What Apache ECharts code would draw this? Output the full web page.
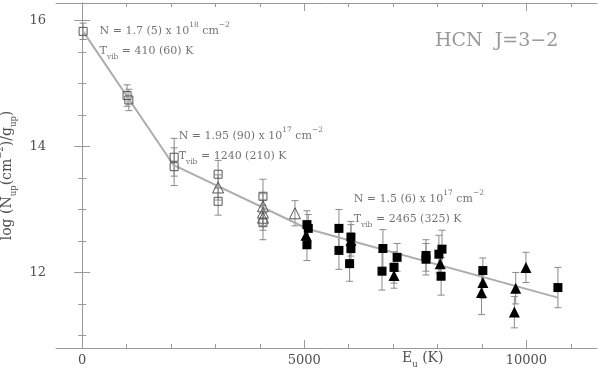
<!DOCTYPE html>
<html>
<head>
<meta charset="utf-8">
<script src="https://cdn.jsdelivr.net/npm/echarts@6/dist/echarts.min.js"></script>
<style>
  html, body { margin: 0; padding: 0; background: #fff; }
  #chart { width: 600px; height: 369px; }
</style>
</head>
<body>
<div id="chart"></div>
<script>
// open squares (low-energy lines)
const openSqE = [20, 1010, 1050, 2070, 2070, 3060, 3060, 4070, 4070]
const openSqY = [15.83, 14.81, 14.74, 13.83, 13.68, 13.56, 13.13, 13.21, 12.79]
const openSqErr = [0.13, 0.17, 0.17, 0.3, 0.3, 0.22, 0.22, 0.27, 0.27]

// open triangles
const openTriE = [3060, 4070, 4070, 4070, 4790]
const openTriY = [13.35, 13.05, 12.95, 12.87, 12.94]
const openTriErr = [0.2, 0.2, 0.2, 0.2, 0.2]

// filled squares
const fillSqE = [5060, 5090, 5060, 5780, 5780, 6050, 6050, 6020, 6770, 6750, 7090, 7020, 7740, 7740, 8100, 8030, 8080, 9020, 10710]
const fillSqY = [12.76, 12.70, 12.44, 12.70, 12.35, 12.56, 12.38, 12.14, 12.38, 12.02, 12.24, 12.08, 12.27, 12.21, 12.37, 12.29, 11.94, 12.03, 11.76]
const fillSqErr = [0.22, 0.22, 0.25, 0.3, 0.3, 0.25, 0.25, 0.28, 0.3, 0.3, 0.22, 0.25, 0.25, 0.25, 0.3, 0.3, 0.3, 0.2, 0.32]

// filled triangles
const fillTriE = [5040, 6050, 7020, 8060, 9020, 8990, 9760, 9730, 9990]
const fillTriY = [12.59, 12.51, 11.95, 12.14, 11.84, 11.68, 11.75, 11.37, 12.08]
const fillTriErr = [0.2, 0.25, 0.2, 0.25, 0.25, 0.35, 0.25, 0.25, 0.24]

// rotation-diagram fit (three components)
const fitE = [20, 2050, 5085, 10710]
const fitY = [15.83, 13.71, 12.69, 11.60]

// fit annotations
const noteE = [380, 2160, 6100]
const noteY = [15.67, 14.01, 13.0]
const noteText = [
  'N = 1.7 (5) x 10{sup|18} cm{sup|−2}\nT{sub|vib} = 410 (60) K',
  'N = 1.95 (90) x 10{sup|17} cm{sup|−2}\nT{sub|vib} = 1240 (210) K',
  'N = 1.5 (6) x 10{sup|17} cm{sup|−2}\nT{sub|vib} = 2465 (325) K'
]
const titleText = 'HCN  J=3−2'
const titleE = 9330
const titleY = 15.68

const xMajor = [0, 5000, 10000]
const xMinor = [1000, 2000, 3000, 4000, 6000, 7000, 8000, 9000, 11000]
const yMajor = [12, 14, 16]
const yMinor = [11, 11.5, 12.5, 13, 13.5, 14.5, 15, 15.5]

const FONT = 'DejaVu Serif'
const FRAME = '#9a9a9a'
const TEXT = '#505050'

const rich = {
  sup: { fontSize: 7.5, lineHeight: 10, verticalAlign: 'top', fontFamily: FONT, color: TEXT },
  sub: { fontSize: 7.5, lineHeight: 10, verticalAlign: 'bottom', fontFamily: FONT, color: TEXT }
}
const richBig = {
  sup: { fontSize: 8.5, lineHeight: 10, verticalAlign: 'top', fontFamily: FONT, color: TEXT },
  sub: { fontSize: 8.5, lineHeight: 10, verticalAlign: 'bottom', fontFamily: FONT, color: TEXT }
}

function zip(xs, ys, es) {
  return xs.map((x, i) => es ? [x, ys[i], es[i]] : [x, ys[i]])
}

function errorBars(data) {
  return {
    type: 'custom',
    z: 1,
    silent: true,
    data: data,
    renderItem: function (params, api) {
      const x = api.value(0), y = api.value(1), e = api.value(2)
      const top = api.coord([x, y + e])
      const bot = api.coord([x, y - e])
      const st = { stroke: '#8a8a8a', lineWidth: 1 }
      return {
        type: 'group',
        children: [
          { type: 'line', shape: { x1: top[0], y1: top[1], x2: bot[0], y2: bot[1] }, style: st },
          { type: 'line', shape: { x1: top[0] - 3.5, y1: top[1], x2: top[0] + 3.5, y2: top[1] }, style: st },
          { type: 'line', shape: { x1: bot[0] - 3.5, y1: bot[1], x2: bot[0] + 3.5, y2: bot[1] }, style: st }
        ]
      }
    }
  }
}

function xAx(pos, ticks, len, labels, line) {
  return {
    type: 'value', position: pos, min: -590, max: 11590,
    axisLine: { show: line, lineStyle: { color: FRAME, width: 1 } },
    axisTick: { inside: true, length: len, customValues: ticks, lineStyle: { color: FRAME } },
    axisLabel: labels ? { customValues: labels, formatter: v => String(v), color: TEXT, fontFamily: FONT, fontSize: 13, margin: 6 } : { show: false },
    splitLine: { show: false }
  }
}
function yAx(pos, ticks, len, labels, line) {
  return {
    type: 'value', position: pos, min: 10.8, max: 16.28,
    axisLine: { show: line, lineStyle: { color: FRAME, width: 1 } },
    axisTick: { inside: true, length: len, customValues: ticks, lineStyle: { color: FRAME } },
    axisLabel: labels ? { customValues: labels, formatter: v => String(v), color: TEXT, fontFamily: FONT, fontSize: 13, margin: 10 } : { show: false },
    splitLine: { show: false }
  }
}

const chart = echarts.init(document.getElementById('chart'))

const yAxes = [yAx('left', yMajor, 8, yMajor, true), yAx('left', yMinor, 4, null, false),
  yAx('right', yMajor, 8, null, true), yAx('right', yMinor, 4, null, false)]
yAxes[0].name = 'log (N{sub|up}(cm{sup|−2})/g{sub|up})'
yAxes[0].nameLocation = 'middle'
yAxes[0].nameGap = 29
yAxes[0].nameTextStyle = { color: TEXT, fontFamily: FONT, fontSize: 14, lineHeight: 22, rich: richBig }

chart.setOption({
  animation: false,
  backgroundColor: '#fff',
  grid: { left: 56, right: 3, top: 3, bottom: 21, outerBoundsMode: 'none', containLabel: false },
  xAxis: [xAx('bottom', xMajor, 8, xMajor, true), xAx('bottom', xMinor, 4, null, false),
    xAx('top', xMajor, 8, null, true), xAx('top', xMinor, 4, null, false)],
  yAxis: yAxes,
  graphic: [{
    type: 'text', left: 402, top: 347,
    style: { text: 'E{sub|u} (K)', fill: TEXT, font: '14px "DejaVu Serif"', lineHeight: 22, rich: richBig }
  }],
  series: [
    errorBars(zip(openSqE, openSqY, openSqErr)),
    errorBars(zip(openTriE, openTriY, openTriErr)),
    errorBars(zip(fillSqE, fillSqY, fillSqErr)),
    errorBars(zip(fillTriE, fillTriY, fillTriErr)),
    {
      type: 'line', z: 2, data: zip(fitE, fitY), symbol: 'none', silent: true,
      lineStyle: { color: '#adadad', width: 2 }
    },
    {
      type: 'scatter', z: 3, symbol: 'rect', symbolSize: 8, data: zip(openSqE, openSqY),
      itemStyle: { color: 'rgba(0,0,0,0)', borderColor: '#555', borderWidth: 1, opacity: 1 }
    },
    {
      type: 'scatter', z: 3, symbol: 'triangle', symbolSize: 11, data: zip(openTriE, openTriY),
      itemStyle: { color: 'rgba(0,0,0,0)', borderColor: '#555', borderWidth: 1, opacity: 1 }
    },
    {
      type: 'scatter', z: 4, symbol: 'rect', symbolSize: 9, data: zip(fillSqE, fillSqY),
      itemStyle: { color: '#000', opacity: 1 }
    },
    {
      type: 'scatter', z: 4, symbol: 'triangle', symbolSize: 11, data: zip(fillTriE, fillTriY),
      itemStyle: { color: '#000', opacity: 1 }
    },
    {
      type: 'scatter', z: 5, symbolSize: 1, silent: true,
      itemStyle: { color: 'rgba(0,0,0,0)' },
      data: noteE.map((x, i) => ({ value: [x, noteY[i]], name: noteText[i] })).concat([
        { value: [titleE, titleY], name: titleText,
          label: { fontSize: 19, color: '#808080', align: 'center', position: 'inside' } }
      ]),
      label: {
        show: true, position: 'right', distance: 0, align: 'left',
        formatter: p => p.name,
        color: TEXT, fontFamily: FONT, fontSize: 11, lineHeight: 20, rich: rich
      }
    }
  ]
})
</script>
</body>
</html>
